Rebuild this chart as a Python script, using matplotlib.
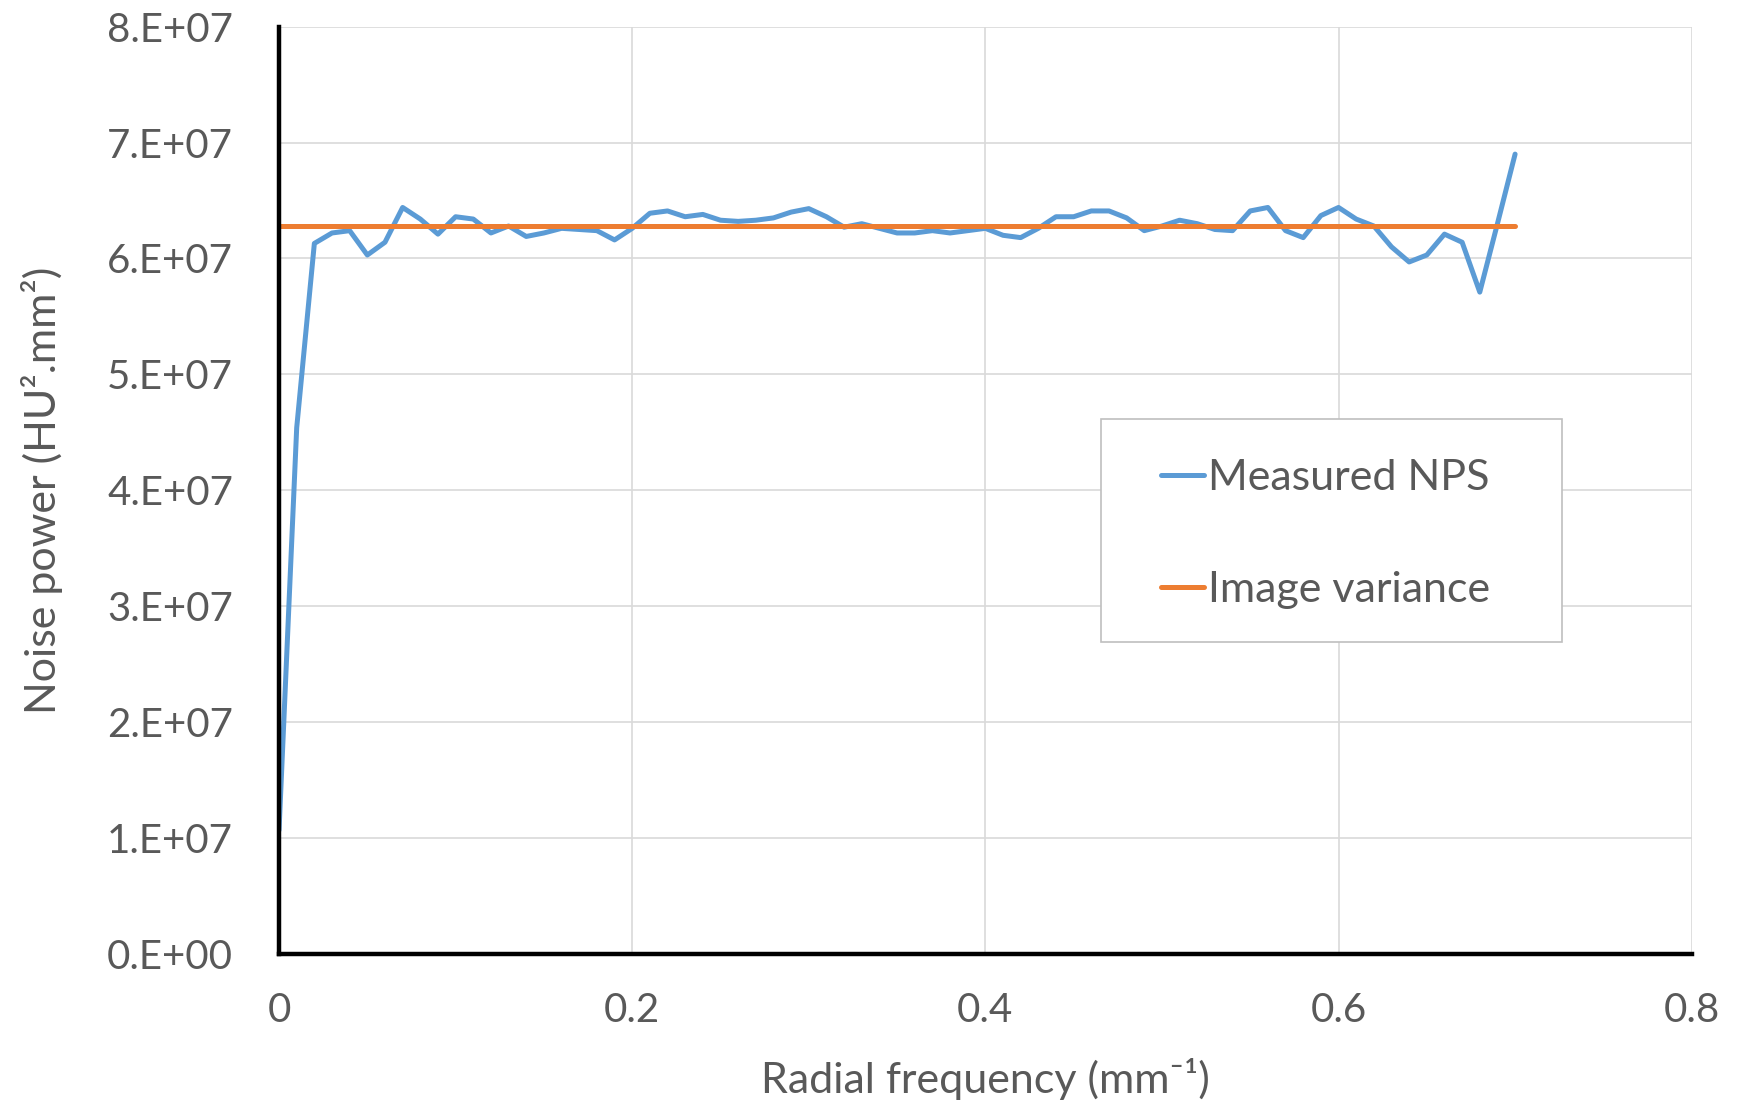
import numpy as np
import matplotlib
matplotlib.use("Agg")
import matplotlib.pyplot as plt
from matplotlib.patches import Rectangle

plt.rcParams['font.family'] = ['Lato', 'DejaVu Sans']

# radial frequency (mm^-1)
freq = [round(0.01 * i, 2) for i in range(71)]

# measured NPS, in units of 1e7 HU^2.mm^2
nps = [1.07, 4.54, 6.13, 6.22, 6.24, 6.03, 6.14, 6.44, 6.34, 6.21,
       6.36, 6.34, 6.22, 6.28, 6.19, 6.22, 6.26, 6.25, 6.24, 6.16,
       6.26, 6.39, 6.41, 6.36, 6.38, 6.33, 6.32, 6.33, 6.35, 6.40,
       6.43, 6.36, 6.27, 6.30, 6.26, 6.22, 6.22, 6.24, 6.22, 6.24,
       6.26, 6.20, 6.18, 6.26, 6.36, 6.36, 6.41, 6.41, 6.35, 6.24,
       6.28, 6.33, 6.30, 6.25, 6.24, 6.41, 6.44, 6.24, 6.18, 6.37,
       6.44, 6.34, 6.28, 6.10, 5.97, 6.03, 6.21, 6.14, 5.71, 6.30,
       6.90]
variance = 6.28  # image variance, 1e7

nps = np.array(nps) * 1e7
var_line = np.full(len(freq), variance * 1e7)

txt = '#595959'

fig = plt.figure(figsize=(17.44, 11.07), dpi=100)
ax = fig.add_axes([0.160, 0.138, 0.810, 0.838])

ax.plot(freq, nps, color='#5B9BD5', lw=3.6, label='Measured NPS',
        solid_joinstyle='round', solid_capstyle='round')
ax.plot(freq, var_line, color='#ED7D31', lw=3.6, label='Image variance', solid_capstyle='round')

ax.set_xlim(0, 0.8)
ax.set_ylim(0, 8e7)
ax.set_xticks([0, 0.2, 0.4, 0.6, 0.8])
ax.set_xticklabels(['0', '0.2', '0.4', '0.6', '0.8'])
yt = np.arange(0, 9) * 1e7
ax.set_yticks(yt)
ax.set_yticklabels(['%d.E+%02d' % (i, 7 if i else 0) for i in range(9)])

ax.grid(True, color='#d9d9d9', lw=1.2)
ax.set_axisbelow(True)
for s in ['top', 'right']:
    ax.spines[s].set_visible(False)
for s in ['left', 'bottom']:
    ax.spines[s].set_color('black')
    ax.spines[s].set_linewidth(3.2)
ax.tick_params(length=0, labelsize=29, labelcolor=txt)
ax.tick_params(axis='y', pad=33)
ax.tick_params(axis='x', pad=27)

ax.set_xlabel('Radial frequency (mm\u207b\u00b9)', fontsize=31, color=txt, labelpad=21)
ax.set_ylabel('Noise power (HU\u00b2.mm\u00b2)', fontsize=31, color=txt, labelpad=32)

# legend box drawn separately so its padding can differ horizontally/vertically
ax.add_patch(Rectangle((0.582, 0.337), 0.326, 0.240, transform=ax.transAxes,
                       facecolor='white', edgecolor='#bfbfbf', lw=1.2, zorder=4))
leg = ax.legend(loc='upper left', bbox_to_anchor=(0.624, 0.534), fontsize=31,
                labelcolor=txt, frameon=False,
                handlelength=1.0, handletextpad=0.1, labelspacing=1.72,
                borderpad=0, borderaxespad=0)
leg.set_zorder(5)

fig.savefig('out.png', dpi=100)
